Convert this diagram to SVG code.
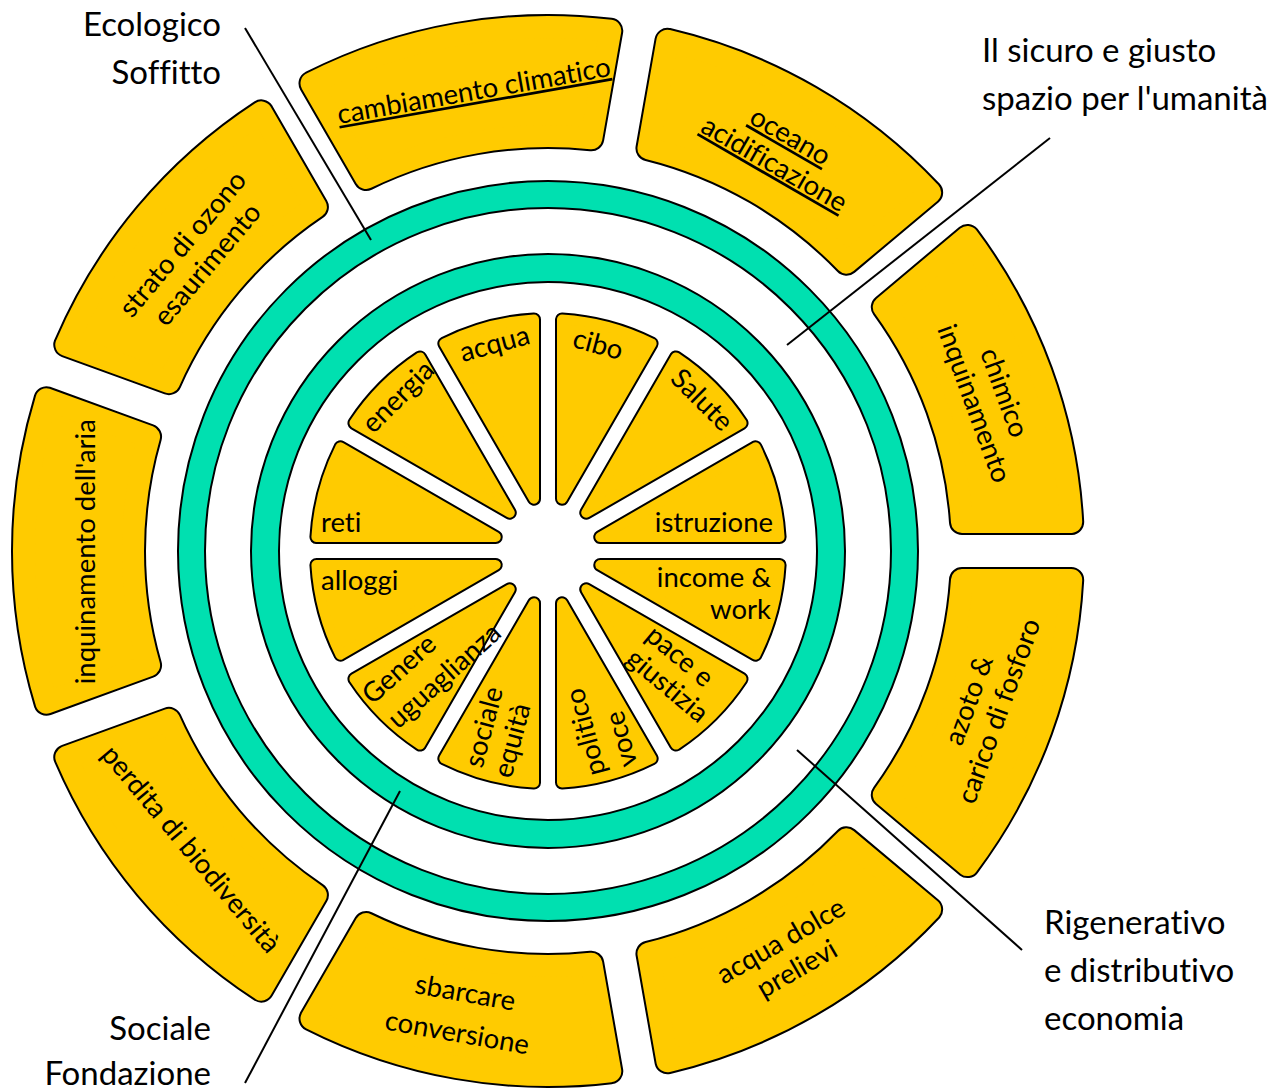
<svg xmlns="http://www.w3.org/2000/svg" xmlns:xlink="http://www.w3.org/1999/xlink" width="1283" height="1092" viewBox="0 0 1283 1092">
<style>
.seg-b{fill:none;stroke:#000;stroke-width:26;stroke-linejoin:round}
.seg-y{fill:#FFCB00;stroke:#FFCB00;stroke-width:22;stroke-linejoin:round}
.w-b{fill:none;stroke:#000;stroke-width:14;stroke-linejoin:round}
.w-y{fill:#FFCB00;stroke:#FFCB00;stroke-width:10;stroke-linejoin:round}
.ring{fill:none;stroke:#00E0B0}
.edge{fill:none;stroke:#000;stroke-width:2}
text{font-family:Lato,"Liberation Sans",sans-serif;fill:#000;font-variant-ligatures:none}
.lbl{font-size:27.5px}
.mid{text-anchor:middle}
.end{text-anchor:end}
.hdr{font-size:33px}
.link{text-decoration:underline}
.lead{stroke:#000;stroke-width:2;fill:none}
</style>
<defs>
<path id="segP" d="M -114.34,-398.94 L -151.69,-501.57 A 524 524 0 0 1 151.69,-501.57 L 114.34,-398.94 A 415 415 0 0 0 -114.34,-398.94 Z"/>
<g id="seg"><use href="#segP" class="seg-b"/><use href="#segP" class="seg-y"/></g>
<path id="wP" d="M 0,-54.09 L 46.41,-227.31 A 232 232 0 0 0 -46.41,-227.31 Z"/>
<g id="wedge"><use href="#wP" class="w-b"/><use href="#wP" class="w-y"/></g>
</defs>
<rect width="1283" height="1092" fill="#fff"/>

<g id="ring-ceiling">
<circle cx="548" cy="551" r="356.5" class="ring" stroke-width="27"/>
<circle cx="548" cy="551" r="370" class="edge"/>
<circle cx="548" cy="551" r="343" class="edge"/>
</g>
<g id="ring-foundation">
<circle cx="548" cy="551" r="283" class="ring" stroke-width="28"/>
<circle cx="548" cy="551" r="297" class="edge"/>
<circle cx="548" cy="551" r="269" class="edge"/>
</g>

<g id="connectors">
<line class="lead" x1="245" y1="28" x2="371" y2="240"/>
<line class="lead" x1="1050" y1="138" x2="787" y2="345"/>
<line class="lead" x1="797" y1="750" x2="1022" y2="950"/>
<line class="lead" x1="400" y1="791" x2="245" y2="1083"/>
</g>

<g id="node-cambiamento-climatico">
<use href="#seg" transform="translate(548,551) rotate(-10)"/>
<text class="lbl mid link" transform="translate(474,92) rotate(-10)" y="8">cambiamento climatico</text>
</g>
<g id="node-oceano-acidificazione">
<use href="#seg" transform="translate(548,551) rotate(30)"/>
<text class="lbl mid link" transform="translate(781.7,151.2) rotate(30)"><tspan x="0" y="-8">oceano</tspan><tspan x="0" y="24">acidificazione</tspan></text>
</g>
<g id="node-chimico-inquinamento">
<use href="#seg" transform="translate(548,551) rotate(70)"/>
<text class="lbl mid" transform="translate(988,398.5) rotate(70)"><tspan x="0" y="-8">chimico</tspan><tspan x="0" y="24">inquinamento</tspan></text>
</g>
<g id="node-azoto-fosforo">
<use href="#seg" transform="translate(548,551) rotate(110)"/>
<text class="lbl mid" transform="translate(985,706) rotate(-70)"><tspan x="0" y="-8">azoto &amp;</tspan><tspan x="0" y="24">carico di fosforo</tspan></text>
</g>
<g id="node-acqua-dolce">
<use href="#seg" transform="translate(548,551) rotate(150)"/>
<text class="lbl mid" transform="translate(789.5,956) rotate(-30)"><tspan x="0" y="-8">acqua dolce</tspan><tspan x="0" y="24">prelievi</tspan></text>
</g>
<g id="node-sbarcare-conversione">
<use href="#seg" transform="translate(548,551) rotate(190)"/>
<text class="lbl mid" transform="translate(465,994) rotate(10)" y="8">sbarcare</text>
<text class="lbl mid" transform="translate(457,1034) rotate(10)" y="8">conversione</text>
</g>
<g id="node-biodiversita">
<use href="#seg" transform="translate(548,551) rotate(230)"/>
<text class="lbl mid" transform="translate(190,850) rotate(50)" y="8">perdita di biodiversità</text>
</g>
<g id="node-inquinamento-aria">
<use href="#seg" transform="translate(548,551) rotate(270)"/>
<text class="lbl mid" transform="translate(87.3,551.7) rotate(-90)" y="8">inquinamento dell'aria</text>
</g>
<g id="node-ozono">
<use href="#seg" transform="translate(548,551) rotate(310)"/>
<text class="lbl mid" transform="translate(196,255) rotate(-50)"><tspan x="0" y="-8">strato di ozono</tspan><tspan x="0" y="24">esaurimento</tspan></text>
</g>

<g id="node-cibo">
<use href="#wedge" transform="translate(548,551) rotate(15)"/>
<text class="lbl mid" transform="translate(597.7,345.7) rotate(15)" y="8">cibo</text>
</g>
<g id="node-salute">
<use href="#wedge" transform="translate(548,551) rotate(45)"/>
<text class="lbl mid" transform="translate(701.7,400) rotate(45)" y="9">Salute</text>
</g>
<g id="node-istruzione">
<use href="#wedge" transform="translate(548,551) rotate(75)"/>
<text class="lbl end" x="773" y="532">istruzione</text>
</g>
<g id="node-income-work">
<use href="#wedge" transform="translate(548,551) rotate(105)"/>
<text class="lbl end"><tspan x="771" y="587">income &amp;</tspan><tspan x="771" y="619">work</tspan></text>
</g>
<g id="node-pace-giustizia">
<use href="#wedge" transform="translate(548,551) rotate(135)"/>
<text class="lbl mid" transform="translate(679,657.3) rotate(40)" y="8">pace e</text>
<text class="lbl mid" transform="translate(666.7,686.7) rotate(40)" y="8">giustizia</text>
</g>
<g id="node-politico-voce">
<use href="#wedge" transform="translate(548,551) rotate(165)"/>
<text class="lbl mid" transform="translate(586.7,731.7) rotate(-105)" y="8">politico</text>
<text class="lbl mid" transform="translate(622.3,739) rotate(-105)" y="8">voce</text>
</g>
<g id="node-sociale-equita">
<use href="#wedge" transform="translate(548,551) rotate(195)"/>
<text class="lbl mid" transform="translate(485,727.3) rotate(-75)" y="8">sociale</text>
<text class="lbl mid" transform="translate(513.3,740.7) rotate(-75)" y="8">equità</text>
</g>
<g id="node-genere-uguaglianza">
<use href="#wedge" transform="translate(548,551) rotate(225)"/>
<text class="lbl mid" transform="translate(400,670) rotate(-42)" y="8">Genere</text>
<text class="lbl mid" transform="translate(445,676.7) rotate(-42)" y="8">uguaglianza</text>
</g>
<g id="node-alloggi">
<use href="#wedge" transform="translate(548,551) rotate(255)"/>
<text class="lbl" x="321" y="590">alloggi</text>
</g>
<g id="node-reti">
<use href="#wedge" transform="translate(548,551) rotate(285)"/>
<text class="lbl" x="321" y="532">reti</text>
</g>
<g id="node-energia">
<use href="#wedge" transform="translate(548,551) rotate(315)"/>
<text class="lbl mid" transform="translate(399.7,398.3) rotate(-45)" y="7">energia</text>
</g>
<g id="node-acqua">
<use href="#wedge" transform="translate(548,551) rotate(345)"/>
<text class="lbl mid" transform="translate(495,345) rotate(-15)" y="8">acqua</text>
</g>

<g id="label-ecologico">
<text class="hdr end"><tspan x="221" y="36">Ecologico</tspan><tspan x="221" y="84">Soffitto</tspan></text>
</g>
<g id="label-spazio">
<text class="hdr"><tspan x="982" y="62">Il sicuro e giusto</tspan><tspan x="982" y="110">spazio per l'umanità</tspan></text>
</g>
<g id="label-economia">
<text class="hdr"><tspan x="1044" y="934">Rigenerativo</tspan><tspan x="1044" y="982">e distributivo</tspan><tspan x="1044" y="1030">economia</tspan></text>
</g>
<g id="label-sociale">
<text class="hdr end"><tspan x="211" y="1040">Sociale</tspan><tspan x="211" y="1085">Fondazione</tspan></text>
</g>
</svg>
